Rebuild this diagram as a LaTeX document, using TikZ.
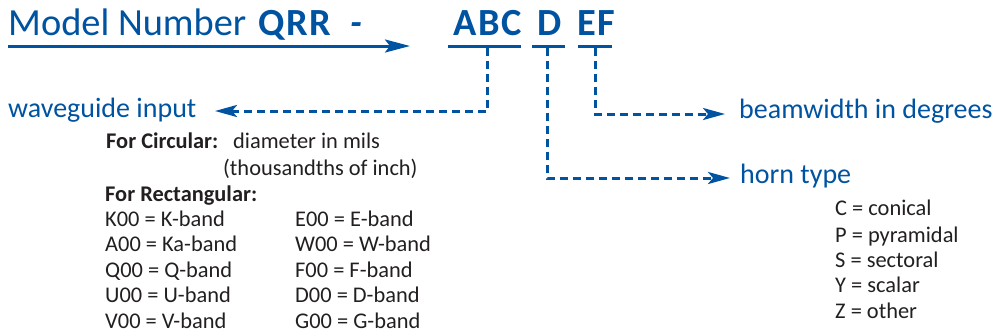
\documentclass[tikz,border=0pt]{standalone}
\usepackage{fontspec}
\setmainfont{Carlito}
\usetikzlibrary{arrows.meta}
\definecolor{qblue}{RGB}{0,83,160}
\definecolor{qtext}{RGB}{35,31,32}
\tikzset{
  lbl/.style={inner sep=0pt, anchor=base west},
  title/.style={lbl, text=qblue, font=\fontsize{38.4}{40}\selectfont},
  code/.style={lbl, text=qblue, font=\fontsize{38.4}{40}\selectfont\bfseries\addfontfeature{LetterSpace=4}},
  blue label/.style={lbl, text=qblue, font=\fontsize{28}{30}\selectfont},
  body/.style={lbl, text=qtext, font=\fontsize{22.4}{24}\selectfont},
  bodyb/.style={lbl, text=qtext, font=\fontsize{22.4}{24}\selectfont\bfseries},
  uline/.style={draw=qblue, line width=3pt},
  mainarrow/.style={draw=qblue, line width=3pt, -{Stealth[length=25pt,width=13pt,inset=5pt]}},
  dasharrow/.style={draw=qblue, line width=3pt, dash pattern=on 8pt off 5pt, line join=miter,
    -{Stealth[length=22pt,width=12pt,inset=5pt]}}
}
\begin{document}
\begin{tikzpicture}[x=1pt,y=-1pt]
\useasboundingbox (0,0) rectangle (998,335);
% title
\node[title] (mn) at (8,35) {Model Number};
\node[code] (qrr) at (258,35) {QRR};
\node[code] (dash) at (350,35) {\itshape -};
\node[code] (abc) at (453,35) {ABC};
\node[code] (d) at (537,35) {D};
\node[code] (ef) at (577,35) {EF};
% main arrow
\coordinate (a0) at (8,46);
\coordinate (a1) at (410,46);
\draw[mainarrow] (a0) -- (a1);
% underlines
\coordinate (u1a) at (448,46); \coordinate (u1b) at (521,46);
\coordinate (u2a) at (532,46); \coordinate (u2b) at (565,46);
\coordinate (u3a) at (578,46); \coordinate (u3b) at (612,46);
\draw[uline] (u1a) -- (u1b);
\draw[uline] (u2a) -- (u2b);
\draw[uline] (u3a) -- (u3b);
% labels
\node[blue label] (wg) at (8,117) {waveguide input};
\node[blue label] (bw) at (739,118) {beamwidth in degrees};
\node[blue label] (ht) at (740,183) {horn type};
% connectors
\coordinate (t1) at (487,47.5);
\coordinate (t2) at (547,47.5);
\coordinate (t3) at (595,47.5);
\coordinate (wgtip) at (215,111);
\coordinate (bwtip) at (725,114);
\coordinate (httip) at (730,178);
\draw[dasharrow] (t1) |- (wgtip);
\draw[dasharrow] (t3) |- (bwtip);
\draw[dasharrow] (t2) |- (httip);
% waveguide details
\node[bodyb] (fc) at (106,148) {For Circular:};
\node[body] (dm) at (233,148) {diameter in mils};
\node[body] (th) at (223,175) {(thousandths of inch)};
\node[bodyb] (fr) at (105,201) {For Rectangular:};
\node[body] (k) at (105,226) {K00 = K-band};
\node[body] (a) at (105,251) {A00 = Ka-band};
\node[body] (q) at (105,277) {Q00 = Q-band};
\node[body] (u) at (105,302) {U00 = U-band};
\node[body] (v) at (105,328) {V00 = V-band};
\node[body] (e) at (295,226) {E00 = E-band};
\node[body] (w) at (295,251) {W00 = W-band};
\node[body] (f) at (295,277) {F00 = F-band};
\node[body] (dd) at (295,302) {D00 = D-band};
\node[body] (g) at (295,328) {G00 = G-band};
% horn types
\node[body] (hc) at (835,215) {C = conical};
\node[body] (hp) at (835,242) {P = pyramidal};
\node[body] (hs) at (835,267) {S = sectoral};
\node[body] (hy) at (835,292) {Y = scalar};
\node[body] (hz) at (835,318) {Z = other};
\end{tikzpicture}
\end{document}
